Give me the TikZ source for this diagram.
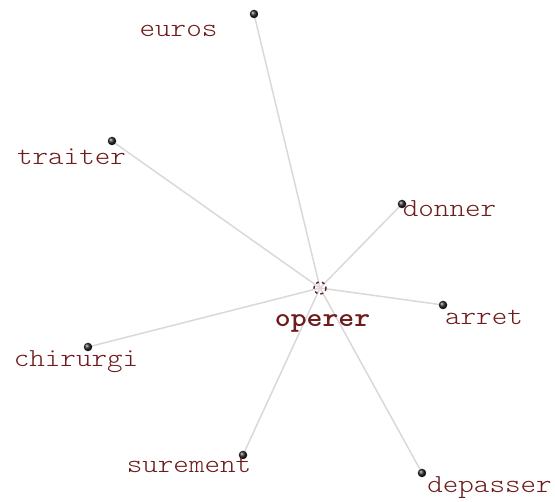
\documentclass[tikz,border=0pt]{standalone}
\usepackage{fontspec}
\newfontfamily\wordfont{lmmonolt10-regular.otf}[FakeStretch=1.14]
\newfontfamily\hubfont{lmmonolt10-bold.otf}[FakeStretch=1.12]
\definecolor{wordred}{RGB}{110,28,28}

\begin{document}
\begin{tikzpicture}[x=1pt,y=-1pt]
    \tikzset{word/.style = {text=wordred,
        font = \wordfont\fontsize{26}{26}\selectfont,
        inner sep = 0pt,
        anchor = base
        },
        leaf/.style = {circle, inner sep=0pt, minimum size=8.5pt, ball color=black!85},
        link/.style = {draw=black!15, line width=1.5pt}}

    \useasboundingbox (0,0) rectangle (555,502);

    % Centre of the star and the leaves around it.
    \coordinate (hub) at (320,288);
    \coordinate (euros) at (254,14);
    \coordinate (traiter) at (112,141);
    \coordinate (donner) at (402,204);
    \coordinate (arret) at (443,305);
    \coordinate (chirurgi) at (88,347);
    \coordinate (surement) at (243,455);
    \coordinate (depasser) at (422,473);

    % Draw the links first, so the dots sit on top.
    \draw[link] (hub) -- (euros);
    \draw[link] (hub) -- (traiter);
    \draw[link] (hub) -- (donner);
    \draw[link] (hub) -- (arret);
    \draw[link] (hub) -- (chirurgi);
    \draw[link] (hub) -- (surement);
    \draw[link] (hub) -- (depasser);

    % Dots and their words.
    \node[leaf] at (euros) {};
    \node[word] (euros-w) at (178.5,37) {euros};
    \node[leaf] at (traiter) {};
    \node[word] (traiter-w) at (71.5,165) {traiter};
    \node[leaf] at (donner) {};
    \node[word] (donner-w) at (449.5,217) {donner};
    \node[leaf] at (arret) {};
    \node[word] (arret-w) at (484,325) {arret};
    \node[leaf] at (chirurgi) {};
    \node[word] (chirurgi-w) at (76,367) {chirurgi};
    \node[leaf] at (surement) {};
    \node[word] (surement-w) at (189,473) {surement};
    \node[leaf] at (depasser) {};
    \node[word] (depasser-w) at (489.5,493) {depasser};

    % The centre word.
    \draw[wordred, line width=1.4pt, dash pattern=on 3pt off 3pt] (hub) circle (6);
    \node[word, font=\hubfont\fontsize{27}{27}\selectfont] (operer) at (322.5,327) {operer};
\end{tikzpicture}
\end{document}
